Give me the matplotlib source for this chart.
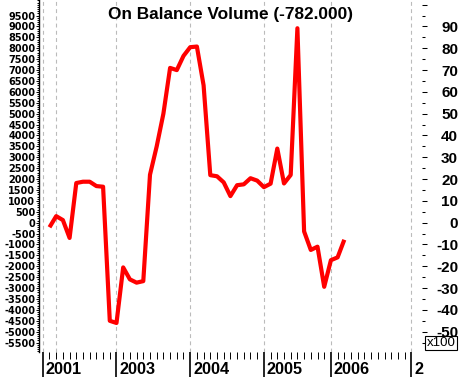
import matplotlib
matplotlib.use('Agg')
import matplotlib.pyplot as plt
import matplotlib.transforms as mtransforms
from matplotlib.patches import Rectangle
import numpy as np

plt.rcParams['font.family'] = ['Liberation Sans', 'DejaVu Sans']

# ---- data ----
obv = [-210, 300, 120, -700, 1820, 1880, 1880, 1680, 1650, -4500,
       -4600, -2050, -2600, -2750, -2680, 2200, 3500, 5000, 7100, 7000,
       7650, 8050, 8080, 6300, 2180, 2130, 1850, 1220, 1720, 1760,
       2040, 1930, 1630, 1790, 3400, 1800, 2190, 8920, -400, -1250,
       -1100, -2940, -1720, -1590, -782]
period = list(range(len(obv)))          # monthly index
year_pos = [-1, 10, 21, 32, 42, 54]
year_labels = ['2001', '2003', '2004', '2005', '2006', '2']
grid_pos = [-1, 1, 10, 21, 32, 42, 54]
last_value = -782.000
title = 'On Balance Volume (%.3f)' % last_value
left_major = list(range(-5500, 9501, 500))
right_major = list(range(-50, 101, 10))

# ---- figure ----
W, H = 461, 377
fig = plt.figure(figsize=(W / 100, H / 100), dpi=100)
fig.patch.set_facecolor('white')
ax_l, ax_r, ax_top, ax_bot = 39.3, 422.5, 0, 352
ax = fig.add_axes([ax_l / W, (H - ax_bot) / H, (ax_r - ax_l) / W, (ax_bot - ax_top) / H])
ax.set_facecolor('white')

ax.plot(period, obv, color='#FF0000', lw=3.0, solid_joinstyle='round',
        solid_capstyle='butt', zorder=3)

ax.set_xlim(-1.52, 55.67)
ax.set_ylim(-5931, 10215)

for g in grid_pos:
    ax.axvline(g, color='#BBBBBB', lw=0.8, ls=(0, (3.5, 3.0)), zorder=1)

for s in ['top', 'right', 'bottom']:
    ax.spines[s].set_visible(False)
ax.spines['left'].set_color('black')
ax.spines['left'].set_linewidth(1.0)

# left axis
ax.set_yticks(left_major)
ax.set_yticklabels([str(v) for v in left_major])
ax.set_yticks(np.arange(-5900, 10201, 100), minor=True)
ax.tick_params(axis='y', which='major', length=2.5, width=0.7, pad=0.3,
               labelsize=7, colors='black')
ax.tick_params(axis='y', which='minor', length=1.6, width=0.7)
for lab in ax.get_yticklabels():
    lab.set_fontfamily('DejaVu Sans')
    lab.set_fontweight('bold')

# bottom axis
ax.set_xticks(year_pos)
ax.set_xticklabels([''] * len(year_pos))
ax.set_xticks(np.arange(-1, 55, 1), minor=True)
ax.tick_params(axis='x', which='major', length=18, width=1.2, color='black')
ax.tick_params(axis='x', which='minor', length=5.0, width=0.7, color='black')
for p, lab in zip(year_pos, year_labels):
    tr = mtransforms.blended_transform_factory(ax.transData, ax.transAxes) + \
        mtransforms.ScaledTranslation(3 / 100, -21.5 / 100, fig.dpi_scale_trans)
    ax.text(p, 0, lab, transform=tr, ha='left', va='baseline',
            fontsize=11.7, fontweight='bold', color='black')

# right axis
ax2 = ax.twinx()
ax2.set_ylim(-5931 / 100, 10215 / 100)
for s in ['top', 'right', 'bottom', 'left']:
    ax2.spines[s].set_visible(False)
ax2.set_yticks(right_major)
ax2.set_yticklabels([str(v) if v < 100 else '' for v in right_major])
ax2.set_yticks(np.arange(-55, 101, 10), minor=True)
ax2.tick_params(axis='y', which='major', length=3.6, width=0.75, pad=22,
                labelsize=11, colors='black')
ax2.tick_params(axis='y', which='minor', length=2.2, width=0.75)
for lab in ax2.get_yticklabels():
    lab.set_horizontalalignment('right')
    lab.set_fontweight('bold')

# title
fig.text(((ax_l + ax_r) / 2) / W, 1 - 18.5 / H, title, ha='center', va='baseline',
         fontsize=12.4, fontweight='bold', color='black')

# x100 box
bx0, by0, bx1, by1 = 425, 336, 457, 350
fig.patches.append(Rectangle((bx0 / W, 1 - by1 / H), (bx1 - bx0) / W, (by1 - by0) / H,
                             transform=fig.transFigure, facecolor='white',
                             edgecolor='black', lw=0.8, zorder=5))
fig.text(((bx0 + bx1) / 2) / W, 1 - ((by0 + by1) / 2) / H, 'x100', ha='center',
         va='center', fontsize=9.5, color='black', zorder=6)

fig.savefig('out.png', dpi=100, facecolor='white')
